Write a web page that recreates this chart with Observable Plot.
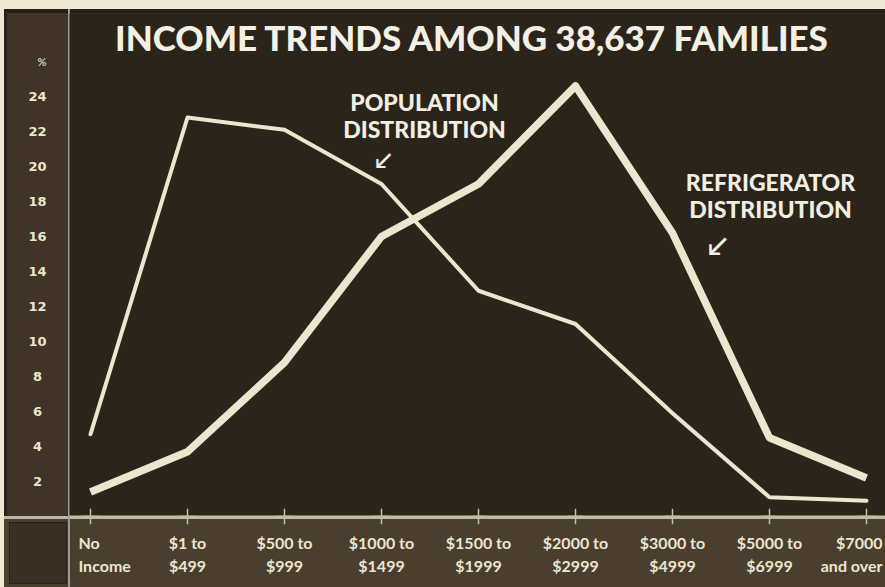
<!DOCTYPE html>
<html>
<head>
<meta charset="utf-8">
<script src="https://cdn.jsdelivr.net/npm/d3@7"></script>
<script src="https://cdn.jsdelivr.net/npm/@observablehq/plot@0.6"></script>
<style>
  html, body { margin: 0; padding: 0; background: #efe9d3; }
  #wrap { position: relative; width: 885px; height: 587px; background: #efe9d3; overflow: hidden; }
  #board { position: absolute; left: 4px; top: 9px; right: 0; bottom: 0; background: #3f3427; border-top: 4px solid #2a221a; border-left: 3px solid #2a221a; }
  #bottom { position: absolute; left: 4px; top: 516px; right: 0; bottom: 0; background: #4a3e2f; border-top: 3px solid #bdb6a0; }
  #box { position: absolute; left: 9px; top: 522px; width: 56px; height: 60px; background: #3a2f25; border: 1px solid #2a221a; }
  #vline { position: absolute; left: 68px; top: 9px; width: 2px; bottom: 0; background: #9c9a88; }
  #chart { position: absolute; left: 0; top: 0; }
</style>
</head>
<body>
<div id="wrap">
  <div id="board"></div>
  <div id="bottom"></div>
  <div id="box"></div>
  <div id="vline"></div>
  <div id="chart"></div>
</div>
<script>
// ---- data ----
const categories = [
  "No\nIncome", "$1 to\n$499", "$500 to\n$999", "$1000 to\n$1499", "$1500 to\n$1999",
  "$2000 to\n$2999", "$3000 to\n$4999", "$5000 to\n$6999", "$7000\nand over"
];
const population    = [4.7, 22.8, 22.1, 19.0, 12.9, 11.0, 5.9, 1.1, 0.9];
const refrigerators = [1.4, 3.7, 8.8, 16.0, 19.0, 24.6, 16.2, 4.5, 2.2];
const yTicks = [2, 4, 6, 8, 10, 12, 14, 16, 18, 20, 22, 24];
const titleText = "INCOME TRENDS AMONG 38,637 FAMILIES";
const popLabel = "POPULATION\nDISTRIBUTION";
const refLabel = "REFRIGERATOR\nDISTRIBUTION";

const popRows = categories.map((c, i) => ({cat: c, value: population[i]}));
const refRows = categories.map((c, i) => ({cat: c, value: refrigerators[i]}));
const baseRows = categories.map(c => ({cat: c, value: 0}));

const ink = "#ece6cf";
const font = "Lato, 'DejaVu Sans', sans-serif";
const last = categories.length - 1;
const xLabelStyle = {frameAnchor: "bottom", lineAnchor: "top", dy: 17, lineHeight: 1.4,
  fontSize: 16, fontWeight: "bold", fill: ink};

const chart = Plot.plot({
  width: 885,
  height: 587,
  marginLeft: 69,
  marginRight: 0,
  marginTop: 13,
  marginBottom: 71,
  style: {background: "transparent", fontFamily: font},
  x: {type: "point", domain: categories, range: [90, 866], padding: 0, axis: null},
  y: {domain: [0, 26], range: [516, 61], label: null},
  marks: [
    Plot.frame({fill: "#2b241a", stroke: null}),
    Plot.ruleY([0], {stroke: "#c4bea8", strokeWidth: 2}),
    Plot.dot(baseRows, {x: "cat", y: "value", symbol: "plus", r: 5, stroke: "#c4bea8", strokeWidth: 1.5}),
    Plot.axisY(yTicks, {anchor: "left", tickSize: 0, tickPadding: 32, textAnchor: "middle", label: null,
      fontSize: 13, fontWeight: "bold", fill: ink, fontFamily: "'DejaVu Sans', sans-serif"}),
    Plot.text(["%"], {frameAnchor: "top-left", dx: -32, dy: 45, fontSize: 11, fontWeight: "bold", fill: "#cfc8b2"}),
    Plot.text(categories.slice(0, 1), {x: d => d, text: d => d, textAnchor: "start", dx: -12, ...xLabelStyle}),
    Plot.text(categories.slice(1, last), {x: d => d, text: d => d, ...xLabelStyle}),
    Plot.text(categories.slice(last), {x: d => d, text: d => d, textAnchor: "end", dx: 16, ...xLabelStyle}),
    Plot.line(popRows, {x: "cat", y: "value", stroke: ink, strokeWidth: 4,
      strokeLinejoin: "round", strokeLinecap: "round"}),
    Plot.line(refRows, {x: "cat", y: "value", stroke: ink, strokeWidth: 7.5,
      strokeLinejoin: "round", strokeLinecap: "butt"}),
    Plot.text([titleText], {frameAnchor: "top", dx: -6, dy: 13, lineAnchor: "top",
      fontSize: 35, fontWeight: 900, fill: "#f4f0e4"}),
    Plot.text([popLabel], {x: () => categories[3], y: () => 22.9, dx: 43, lineHeight: 1.17,
      fontSize: 23, fontWeight: 900, fill: "#f2eee2"}),
    Plot.text(["↙"], {x: () => categories[3], y: () => 20.3, dx: 2, fontSize: 22, fontWeight: "bold", fill: "#f2eee2"}),
    Plot.text([refLabel], {x: () => categories[7], y: () => 18.3, dx: 1, lineHeight: 1.17,
      fontSize: 23, fontWeight: 900, fill: "#f2eee2"}),
    Plot.text(["↙"], {x: () => categories[6], y: () => 15.4, dx: 45, fontSize: 26, fontWeight: "bold", fill: "#f2eee2"})
  ]
});
document.getElementById("chart").appendChild(chart);
</script>
</body>
</html>
